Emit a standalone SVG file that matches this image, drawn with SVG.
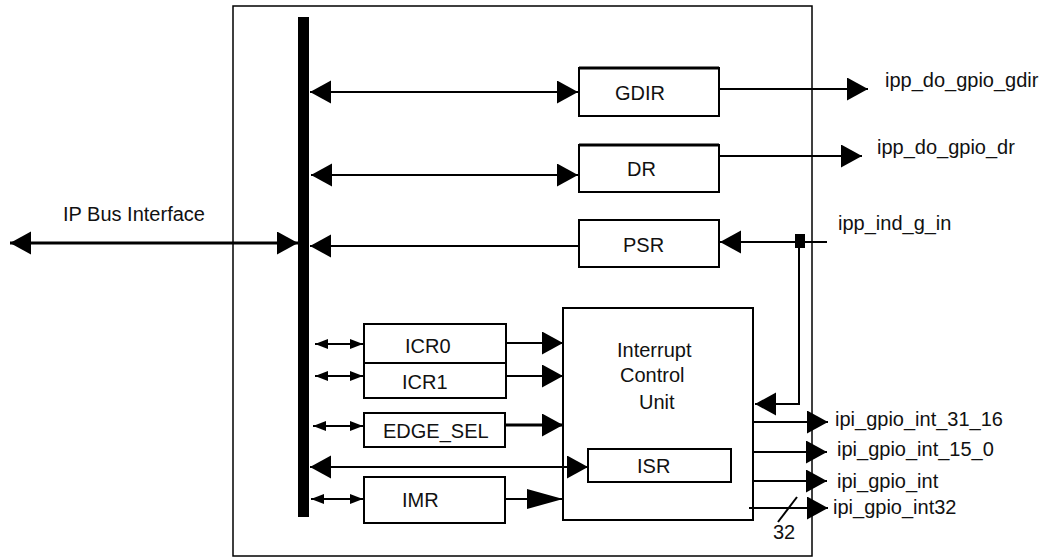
<svg xmlns="http://www.w3.org/2000/svg" width="1052" height="558" viewBox="0 0 1052 558">
<style>
text{font-family:"Liberation Sans",Arial,sans-serif;font-size:20px;fill:#111}
.box{fill:none;stroke:#000;stroke-width:2}
.ln{fill:none;stroke:#000;stroke-width:2}
.th{stroke-width:3}
</style>
<defs>
<marker id="ah" markerUnits="userSpaceOnUse" markerWidth="22" markerHeight="24" refX="21" refY="11.5" orient="auto-start-reverse" viewBox="0 0 22 24"><path d="M0,0 L21,11.5 L0,23 z" fill="#000"/></marker>
<marker id="ahs" markerUnits="userSpaceOnUse" markerWidth="14" markerHeight="12" refX="13" refY="5" orient="auto-start-reverse" viewBox="0 0 14 12"><path d="M0,0 L13,5 L0,10 z" fill="#000"/></marker>
<marker id="ahl" markerUnits="userSpaceOnUse" markerWidth="37" markerHeight="22" refX="36" refY="10" orient="auto-start-reverse" viewBox="0 0 37 22"><path d="M0,0 L36,10 L0,20 z" fill="#000"/></marker>
</defs>
<g id="frame"><rect x="233" y="6" width="579" height="550" fill="none" stroke="#000" stroke-width="1.5"/></g>
<g id="bus"><rect x="298" y="17" width="11" height="500" fill="#000"/></g>
<g id="connectors">
<line class="ln th" x1="10" y1="243" x2="298" y2="243" marker-start="url(#ah)" marker-end="url(#ah)"/>
<line class="ln" x1="310" y1="92" x2="578" y2="92" marker-start="url(#ah)" marker-end="url(#ah)"/>
<line class="ln" x1="311" y1="175" x2="578" y2="175" stroke-width="3.5" marker-start="url(#ah)" marker-end="url(#ah)"/>
<line class="ln" x1="578" y1="246" x2="310" y2="246" marker-end="url(#ah)"/>
<line class="ln" x1="719" y1="89" x2="868" y2="89" marker-end="url(#ah)"/>
<line class="ln" x1="719" y1="156" x2="862" y2="156" stroke-width="2.5" marker-end="url(#ah)"/>
<line class="ln" x1="827" y1="242" x2="720" y2="242" marker-end="url(#ah)"/>
<polyline class="ln" points="799,242 799,404 755,404" marker-end="url(#ah)"/>
<rect x="795" y="234" width="10" height="14" fill="#000"/>
<line class="ln" x1="315" y1="344" x2="363" y2="344" marker-start="url(#ahs)" marker-end="url(#ahs)"/>
<line class="ln" x1="315" y1="376" x2="363" y2="376" marker-start="url(#ahs)" marker-end="url(#ahs)"/>
<line class="ln" x1="313" y1="426" x2="363" y2="426" marker-start="url(#ahs)" marker-end="url(#ahs)"/>
<line class="ln" x1="311" y1="499" x2="363" y2="499" marker-start="url(#ahs)" marker-end="url(#ahs)"/>
<line class="ln" x1="310" y1="467" x2="588" y2="467" marker-start="url(#ah)" marker-end="url(#ah)"/>
<line class="ln" x1="506" y1="343" x2="563" y2="343" marker-end="url(#ah)"/>
<line class="ln" x1="506" y1="376" x2="563" y2="376" marker-end="url(#ah)"/>
<line class="ln th" x1="505" y1="425" x2="563" y2="425" marker-end="url(#ah)"/>
<line class="ln" x1="505" y1="499" x2="563" y2="499" marker-end="url(#ahl)"/>
<line class="ln" x1="753" y1="422" x2="828" y2="422" marker-end="url(#ah)"/>
<line class="ln" x1="753" y1="452" x2="827" y2="452" marker-end="url(#ah)"/>
<line class="ln" x1="753" y1="481" x2="827" y2="481" marker-end="url(#ah)"/>
<line class="ln" x1="749" y1="508" x2="828" y2="508" marker-end="url(#ah)"/>
<line class="ln" x1="778" y1="522" x2="797" y2="497" stroke-width="1.5"/>
</g>
<g id="gdir"><rect class="box" x="579" y="68" width="140" height="48"/><line x1="579" y1="68" x2="719" y2="68" stroke="#000" stroke-width="3"/><text x="615" y="100">GDIR</text></g>
<g id="dr"><rect class="box" x="579" y="145" width="140" height="47"/><line x1="579" y1="145" x2="719" y2="145" stroke="#000" stroke-width="3"/><text x="627" y="176">DR</text></g>
<g id="psr"><rect class="box" x="579" y="220" width="140" height="47"/><text x="623" y="252">PSR</text></g>
<g id="icr0"><rect class="box" x="364" y="324" width="142" height="39"/><text x="405" y="353">ICR0</text></g>
<g id="icr1"><rect class="box" x="364" y="363" width="142" height="35"/><text x="402" y="389">ICR1</text></g>
<g id="edge_sel"><rect class="box" x="364" y="413" width="141" height="34"/><text x="383" y="438">EDGE_SEL</text></g>
<g id="imr"><rect class="box" x="364" y="477" width="141" height="46"/><text x="402" y="507">IMR</text></g>
<g id="icu"><rect class="box" x="563" y="308" width="190" height="212"/><text x="617" y="357">Interrupt</text><text x="620" y="382">Control</text><text x="639" y="409">Unit</text></g>
<g id="isr"><rect class="box" x="588" y="449" width="143" height="33"/><text x="637" y="473">ISR</text></g>
<g id="labels">
<text x="63" y="221">IP Bus Interface</text>
<text x="885" y="87">ipp_do_gpio_gdir</text>
<text x="877" y="154">ipp_do_gpio_dr</text>
<text x="838" y="230">ipp_ind_g_in</text>
<text x="835" y="426">ipi_gpio_int_31_16</text>
<text x="837" y="456">ipi_gpio_int_15_0</text>
<text x="837" y="488">ipi_gpio_int</text>
<text x="833" y="514">ipi_gpio_int32</text>
<text x="773" y="539">32</text>
</g>
</svg>
